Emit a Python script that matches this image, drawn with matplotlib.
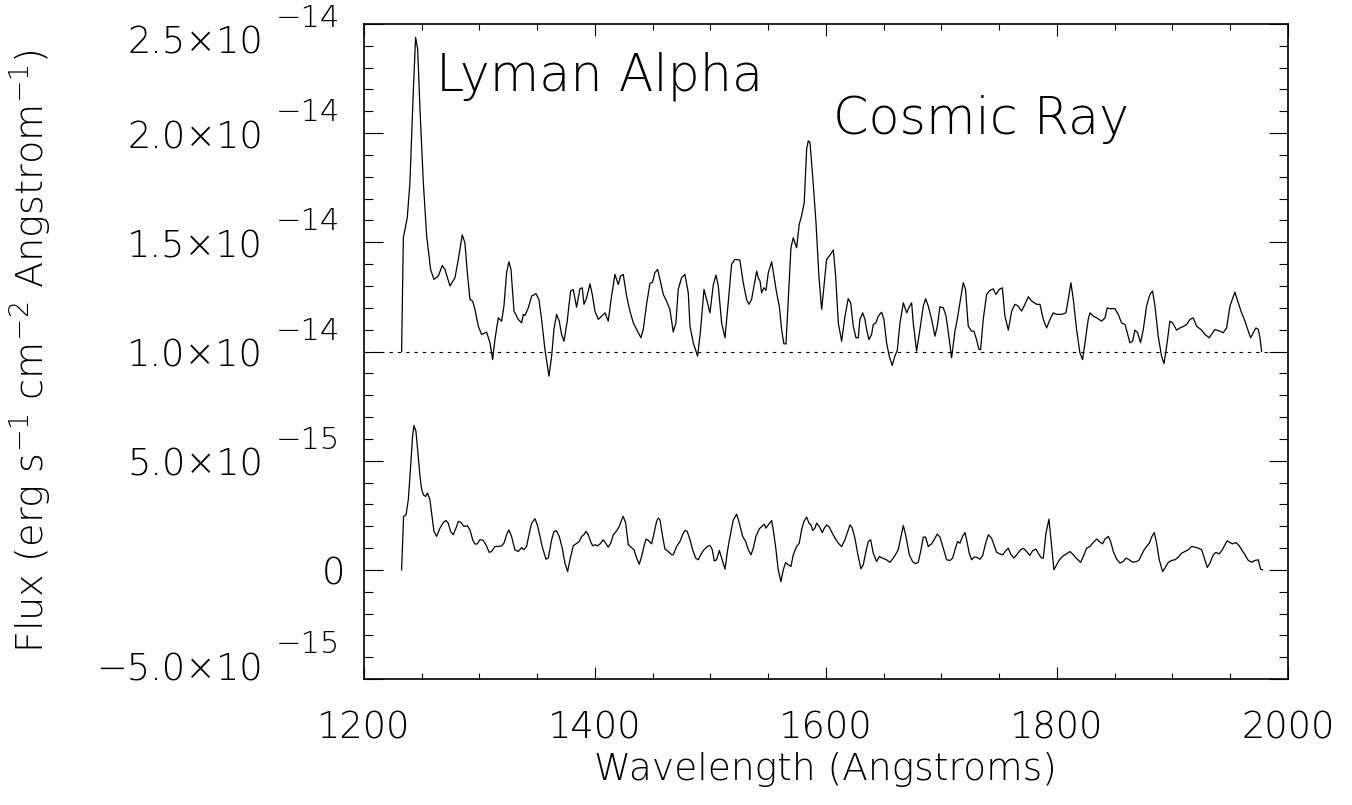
import numpy as np
import matplotlib
matplotlib.use("Agg")
import matplotlib.pyplot as plt
from matplotlib.ticker import MultipleLocator

# spectrum with cosmic ray (flux in units of 1e-15 erg/s/cm^2/A)
raw_wave = [
    1232.6, 1234.1, 1237.5, 1239.8, 1242.7, 1244.7, 1246.5, 1248.5, 1251.4, 1254.3,
    1257.7, 1260.6, 1264.4, 1267.8, 1270.1, 1274.5, 1278.8, 1281.7, 1285.1, 1287.4,
    1289.5, 1291.8, 1294.1, 1296.1, 1299.0, 1301.9, 1306.2, 1309.1, 1311.4, 1313.4,
    1316.3, 1319.2, 1321.2, 1323.5, 1325.5, 1327.3, 1329.9, 1333.6, 1336.5, 1337.9,
    1339.4, 1342.3, 1345.2, 1348.9, 1351.5, 1353.8, 1356.7, 1360.2, 1362.5, 1364.5,
    1366.8, 1369.1, 1371.1, 1373.2, 1376.0, 1378.9, 1381.2, 1384.1, 1387.0, 1389.0,
    1390.5, 1392.8, 1395.7, 1397.7, 1400.0, 1402.9, 1405.8, 1408.7, 1411.5, 1414.4,
    1417.3, 1420.2, 1422.2, 1424.5, 1427.4, 1430.3, 1433.2, 1436.1, 1439.8, 1441.8,
    1444.7, 1447.6, 1449.9, 1451.9, 1454.3, 1456.3, 1459.2, 1462.0, 1464.9, 1467.8,
    1470.1, 1472.1, 1475.0, 1477.9, 1480.8, 1482.3, 1485.1, 1488.9, 1491.5, 1494.4,
    1496.7, 1499.6, 1502.5, 1504.8, 1506.8, 1509.7, 1512.6, 1515.4, 1518.3, 1521.2,
    1525.5, 1528.4, 1531.3, 1533.3, 1535.6, 1537.7, 1540.0, 1541.4, 1542.9, 1544.3,
    1546.3, 1548.1, 1550.1, 1553.0, 1555.0, 1557.3, 1559.6, 1561.6, 1563.6, 1565.4,
    1567.4, 1569.7, 1571.7, 1574.6, 1576.9, 1578.9, 1581.2, 1583.3, 1584.7, 1586.2,
    1588.5, 1591.4, 1593.9, 1596.3, 1598.3, 1600.6, 1604.0, 1606.4, 1608.4, 1610.7,
    1613.6, 1616.5, 1619.3, 1621.4, 1623.7, 1626.0, 1628.0, 1629.4, 1631.8, 1633.8,
    1635.2, 1637.2, 1639.5, 1641.0, 1643.3, 1645.3, 1648.2, 1650.2, 1652.5, 1654.8,
    1657.4, 1659.7, 1661.8, 1664.1, 1667.0, 1669.9, 1672.2, 1674.2, 1675.6, 1678.5,
    1681.4, 1684.3, 1686.3, 1688.6, 1691.5, 1694.4, 1696.4, 1698.7, 1701.6, 1703.9,
    1706.8, 1708.8, 1711.7, 1713.7, 1716.0, 1718.9, 1720.9, 1723.2, 1726.1, 1728.1,
    1730.4, 1732.5, 1733.9, 1736.2, 1739.1, 1742.0, 1744.9, 1747.2, 1750.1, 1752.7,
    1755.0, 1757.9, 1760.8, 1763.6, 1766.5, 1769.4, 1772.3, 1775.2, 1778.1, 1782.4,
    1785.3, 1788.2, 1791.1, 1794.0, 1796.8, 1799.7, 1804.0, 1807.8, 1809.8, 1812.1,
    1814.2, 1817.0, 1819.9, 1822.2, 1824.3, 1827.1, 1828.6, 1831.5, 1834.4, 1838.7,
    1841.6, 1843.6, 1845.9, 1850.2, 1853.1, 1856.0, 1858.9, 1860.9, 1863.2, 1865.5,
    1867.5, 1869.9, 1872.4, 1874.8, 1877.6, 1880.5, 1882.8, 1884.9, 1887.7, 1890.6,
    1892.7, 1895.0, 1897.8, 1900.2, 1903.6, 1906.5, 1910.0, 1912.3, 1915.2, 1918.0,
    1920.9, 1925.3, 1928.1, 1931.9, 1933.9, 1936.8, 1941.1, 1944.0, 1946.9, 1949.8,
    1954.1, 1957.0, 1959.9, 1962.8, 1965.7, 1967.7, 1970.0, 1972.3, 1974.3, 1975.8,
    1977.2,
]
raw_flux = [
    10.00, 15.21, 16.13, 17.74, 21.87, 24.39, 23.85, 21.10, 17.74, 15.29,
    13.76, 13.30, 13.46, 13.94, 13.76, 13.00, 13.38, 14.22, 15.34, 14.98,
    13.61, 12.38, 12.31, 11.93, 11.16, 10.78, 10.89, 10.40, 9.63, 10.55,
    11.54, 11.39, 12.08, 13.61, 14.11, 13.76, 11.85, 11.47, 11.31, 11.70,
    11.65, 12.00, 12.54, 12.65, 12.38, 11.47, 10.09, 8.87, 9.79, 11.01,
    11.70, 11.39, 10.78, 10.47, 11.39, 12.77, 12.84, 12.03, 12.87, 12.92,
    12.16, 12.46, 13.10, 12.61, 11.85, 11.47, 11.62, 11.77, 11.39, 12.54,
    13.53, 13.07, 13.46, 13.53, 12.54, 11.85, 11.31, 11.01, 10.63, 11.01,
    12.16, 13.12, 13.18, 13.61, 13.76, 13.30, 12.61, 12.31, 11.93, 10.89,
    11.31, 12.84, 13.38, 13.53, 12.69, 11.16, 10.40, 9.79, 11.01, 12.84,
    12.38, 11.77, 13.07, 13.50, 13.00, 11.31, 10.63, 12.23, 13.99, 14.22,
    14.19, 13.15, 12.38, 12.16, 12.38, 13.00, 13.68, 13.38, 13.23, 12.69,
    12.92, 12.80, 13.61, 14.11, 13.46, 12.69, 12.08, 11.01, 10.35, 10.35,
    12.38, 14.75, 15.21, 14.75, 15.83, 16.21, 16.82, 19.27, 19.65, 19.57,
    18.04, 15.90, 13.46, 11.93, 13.00, 14.22, 14.45, 14.65, 13.46, 11.31,
    10.47, 11.62, 12.42, 12.23, 11.16, 10.63, 10.63, 11.47, 11.77, 11.47,
    11.01, 10.55, 10.78, 11.24, 11.31, 11.62, 11.80, 11.47, 10.40, 9.79,
    9.36, 9.79, 10.06, 11.31, 12.23, 11.77, 12.05, 12.23, 11.31, 10.02,
    11.01, 12.08, 12.42, 12.08, 11.47, 10.70, 11.16, 12.05, 12.00, 11.65,
    10.55, 9.71, 10.93, 11.47, 12.23, 13.15, 12.84, 11.16, 10.93, 10.93,
    10.55, 10.09, 10.09, 11.47, 12.61, 12.80, 12.87, 12.61, 12.84, 12.92,
    11.62, 10.98, 11.85, 12.16, 12.08, 11.85, 12.16, 12.51, 12.31, 12.16,
    12.16, 11.47, 11.08, 11.47, 11.77, 11.70, 11.70, 11.77, 12.38, 13.15,
    12.38, 11.01, 9.94, 9.63, 10.40, 11.47, 11.77, 11.62, 11.54, 11.39,
    11.54, 12.00, 11.96, 11.97, 11.70, 11.31, 11.24, 10.86, 10.40, 10.47,
    10.98, 10.86, 10.40, 11.01, 12.08, 12.61, 12.77, 12.08, 10.70, 9.79,
    9.45, 10.24, 11.39, 11.31, 10.98, 11.08, 11.16, 11.24, 11.47, 11.54,
    11.16, 10.98, 10.78, 10.63, 10.78, 11.01, 10.93, 10.86, 11.08, 12.08,
    12.72, 12.23, 11.77, 11.39, 10.93, 10.63, 10.86, 11.08, 11.01, 10.63,
    10.00,
]

# cleaned spectrum (same units)
clean_wave = [
    1232.6, 1234.3, 1236.4, 1238.4, 1240.4, 1242.1, 1243.3, 1245.0, 1247.0, 1248.5,
    1249.9, 1251.4, 1253.4, 1255.1, 1257.1, 1258.6, 1260.6, 1262.9, 1265.8, 1268.7,
    1271.0, 1273.0, 1275.0, 1277.3, 1279.7, 1281.7, 1284.0, 1286.6, 1289.5, 1291.8,
    1294.1, 1296.1, 1298.1, 1300.4, 1303.3, 1305.6, 1308.5, 1310.5, 1313.4, 1316.3,
    1319.2, 1321.2, 1323.5, 1325.5, 1327.8, 1330.7, 1333.6, 1336.5, 1338.5, 1340.8,
    1342.9, 1345.2, 1348.1, 1350.1, 1352.4, 1354.7, 1357.6, 1359.6, 1362.5, 1364.5,
    1366.8, 1369.1, 1371.7, 1374.0, 1376.3, 1378.4, 1381.2, 1383.6, 1386.4, 1388.5,
    1390.5, 1392.2, 1394.2, 1396.2, 1398.0, 1400.0, 1402.0, 1404.3, 1407.2, 1409.2,
    1411.5, 1413.6, 1415.9, 1418.8, 1421.1, 1423.1, 1424.5, 1426.6, 1428.9, 1431.7,
    1433.8, 1436.1, 1438.4, 1440.4, 1442.4, 1444.2, 1446.2, 1449.1, 1451.1, 1453.4,
    1454.8, 1456.3, 1458.6, 1460.6, 1463.5, 1466.4, 1467.8, 1470.7, 1473.6, 1475.9,
    1477.9, 1479.9, 1482.3, 1484.6, 1487.2, 1489.5, 1491.5, 1494.4, 1497.3, 1499.6,
    1501.6, 1503.3, 1505.3, 1507.7, 1509.7, 1512.6, 1514.9, 1517.5, 1519.8, 1522.7,
    1525.0, 1527.9, 1530.5, 1532.8, 1535.1, 1537.1, 1539.4, 1542.3, 1545.2, 1546.6,
    1548.1, 1550.1, 1553.0, 1554.4, 1556.4, 1558.7, 1561.0, 1563.1, 1565.1, 1567.4,
    1569.7, 1571.7, 1574.6, 1576.9, 1578.9, 1581.0, 1583.3, 1585.3, 1587.0, 1588.5,
    1590.5, 1591.9, 1594.2, 1596.8, 1598.6, 1600.6, 1602.9, 1605.5, 1607.8, 1610.7,
    1613.6, 1616.5, 1619.3, 1620.8, 1622.8, 1625.1, 1627.4, 1630.3, 1632.3, 1634.6,
    1636.7, 1638.7, 1641.0, 1643.9, 1646.2, 1648.8, 1652.5, 1655.4, 1658.3, 1660.6,
    1662.6, 1664.9, 1667.0, 1669.3, 1672.2, 1675.0, 1677.6, 1679.9, 1682.0, 1684.3,
    1686.3, 1688.6, 1691.5, 1694.4, 1696.4, 1698.7, 1701.6, 1704.5, 1707.4, 1709.7,
    1711.7, 1714.0, 1716.0, 1718.3, 1720.4, 1721.8, 1724.1, 1726.1, 1728.1, 1730.4,
    1733.3, 1735.6, 1738.3, 1740.6, 1743.4, 1745.8, 1747.8, 1750.7, 1753.0, 1755.9,
    1757.9, 1759.9, 1762.8, 1765.7, 1768.6, 1770.9, 1773.7, 1776.6, 1778.9, 1781.8,
    1783.8, 1786.7, 1788.2, 1790.5, 1793.1, 1795.4, 1797.4, 1799.7, 1802.6, 1805.5,
    1809.0, 1811.3, 1814.2, 1817.6, 1820.5, 1822.8, 1825.7, 1828.6, 1830.9, 1834.4,
    1836.7, 1839.5, 1841.6, 1844.5, 1846.5, 1848.8, 1851.7, 1854.6, 1857.4, 1859.7,
    1862.6, 1865.5, 1869.0, 1871.3, 1873.3, 1875.6, 1877.6, 1880.0, 1882.0, 1884.3,
    1886.3, 1888.6, 1891.5, 1893.5, 1896.4, 1899.3, 1902.2, 1905.1, 1907.9, 1910.8,
    1913.7, 1916.6, 1919.5, 1922.4, 1925.3, 1928.1, 1930.2, 1932.5, 1935.4, 1937.7,
    1940.6, 1943.2, 1945.5, 1947.5, 1949.8, 1952.1, 1955.0, 1957.9, 1959.9, 1962.8,
    1965.7, 1968.6, 1971.4, 1974.3, 1976.4, 1978.1,
]
clean_flux = [
    0.00, 2.45, 2.52, 3.21, 4.74, 6.12, 6.61, 6.35, 5.20, 4.28,
    3.70, 3.44, 3.36, 3.52, 3.21, 2.60, 1.76, 1.53, 1.91, 2.17,
    2.26, 2.14, 1.76, 1.61, 1.91, 2.22, 2.17, 1.99, 2.02, 1.83,
    1.38, 1.18, 1.19, 1.38, 1.35, 1.15, 0.80, 0.84, 1.07, 1.07,
    1.10, 1.22, 1.61, 1.83, 1.53, 0.92, 0.84, 1.02, 0.92, 1.07,
    1.61, 2.14, 2.34, 2.06, 1.53, 0.99, 0.49, 0.54, 1.38, 1.76,
    1.79, 1.53, 0.99, 0.31, -0.08, 0.46, 1.10, 1.19, 1.30, 1.53,
    1.61, 1.76, 1.61, 1.30, 1.10, 1.15, 1.10, 1.18, 1.38, 1.22,
    1.04, 1.22, 1.61, 1.79, 1.99, 2.29, 2.45, 2.14, 1.15, 1.02,
    0.92, 0.54, 0.26, 0.61, 1.07, 1.41, 1.35, 1.19, 1.68, 2.22,
    2.37, 2.29, 1.53, 0.95, 0.84, 0.69, 0.69, 1.07, 1.30, 1.61,
    1.80, 1.76, 1.38, 0.92, 0.54, 0.46, 0.69, 0.92, 1.07, 1.12,
    0.92, 0.41, 0.46, 0.89, 0.54, 0.03, 0.92, 1.68, 2.29, 2.55,
    2.14, 1.53, 1.30, 0.92, 0.69, 0.99, 1.53, 1.88, 2.02, 2.09,
    1.91, 2.06, 2.26, 1.83, 1.07, 0.00, -0.54, 0.00, 0.34, 0.23,
    0.15, 0.69, 1.07, 1.22, 1.83, 2.22, 2.42, 2.14, 2.06, 1.80,
    1.91, 2.14, 1.99, 1.71, 1.91, 2.06, 1.96, 1.68, 1.45, 1.22,
    1.07, 1.38, 1.83, 2.06, 1.91, 1.45, 0.76, 0.05, 0.23, 0.84,
    1.30, 1.38, 0.76, 0.38, 0.61, 0.54, 0.46, 0.34, 0.54, 0.73,
    0.92, 1.50, 2.03, 1.53, 0.69, 0.38, 0.28, 0.34, 0.84, 1.50,
    1.50, 1.07, 1.19, 1.45, 1.64, 1.50, 0.99, 0.46, 0.43, 0.54,
    0.92, 1.30, 1.22, 1.53, 1.71, 1.38, 0.76, 0.46, 0.58, 0.58,
    0.49, 0.64, 1.22, 1.61, 1.45, 1.10, 0.80, 0.73, 0.69, 0.89,
    0.99, 0.73, 0.54, 0.73, 0.92, 0.99, 0.84, 0.66, 0.87, 0.95,
    0.76, 0.54, 0.54, 1.68, 2.32, 1.07, 0.00, 0.23, 0.49, 0.64,
    0.76, 0.84, 0.69, 0.49, 0.34, 0.61, 0.99, 1.07, 1.22, 1.41,
    1.30, 1.19, 1.41, 1.53, 1.30, 0.84, 0.49, 0.31, 0.38, 0.54,
    0.46, 0.35, 0.38, 0.46, 0.69, 0.92, 1.07, 1.22, 1.50, 1.71,
    1.22, 0.46, -0.08, 0.08, 0.34, 0.43, 0.46, 0.58, 0.76, 0.84,
    0.92, 1.07, 1.04, 0.99, 0.92, 0.46, 0.11, 0.31, 0.69, 0.80,
    0.73, 0.92, 1.15, 1.33, 1.25, 1.19, 1.25, 1.10, 0.92, 0.69,
    0.43, 0.35, 0.43, 0.46, 0.03, 0.00,
]
FLUX_UNIT = 1e-15
CONTINUUM = 1.0e-14

y_tick_values = [-5, 0, 5, 10, 15, 20, 25]
y_tick_mant = ["\u22125.0\u00d710", "0", "5.0\u00d710", "1.0\u00d710",
               "1.5\u00d710", "2.0\u00d710", "2.5\u00d710"]
y_tick_exp = ["\u221215", "", "\u221215", "\u221214", "\u221214", "\u221214", "\u221214"]
x_tick_values = [1200, 1400, 1600, 1800, 2000]

notes = ["Lyman Alpha", "Cosmic Ray"]
note_wave = [1262.3, 1606.3]
note_flux = [21.94, 19.95]

plt.rcParams['font.family'] = ['DejaVu Sans']
plt.rcParams['font.weight'] = 'ultralight'
plt.rcParams['axes.labelweight'] = 'ultralight'
plt.rcParams['mathtext.fontset'] = 'custom'
plt.rcParams['mathtext.rm'] = 'DejaVu Sans:ultralight'
plt.rcParams['mathtext.it'] = 'DejaVu Sans:ultralight'

fig = plt.figure(figsize=(13.52, 8.05), dpi=100)
ax = fig.add_axes([0.2692, 0.1565, 0.6834, 0.8137])

ax.plot(raw_wave, np.array(raw_flux) * FLUX_UNIT, color='black', lw=0.9)
ax.plot(clean_wave, np.array(clean_flux) * FLUX_UNIT, color='black', lw=0.9)
ax.axhline(CONTINUUM, color='black', lw=0.8, ls=(0, (3, 4.5)))

ax.set_xlim(1200, 2000)
ax.set_ylim(-5e-15, 2.5e-14)

ax.set_xticks(x_tick_values)
ax.set_xticklabels([str(v) for v in x_tick_values])
ax.xaxis.set_minor_locator(MultipleLocator(50))
ax.set_yticks(np.array(y_tick_values) * FLUX_UNIT)
ax.yaxis.set_minor_locator(MultipleLocator(1e-15))

ax.tick_params(which='both', direction='in', top=True, right=True, width=0.8, color='black')
ax.tick_params(axis='x', which='major', length=8.6, pad=22, labelsize=26.5)
ax.tick_params(axis='x', which='minor', length=4.3)
ax.tick_params(axis='y', which='major', length=13.7, labelleft=False)
ax.tick_params(axis='y', which='minor', length=6.8)
for s in ax.spines.values():
    s.set_linewidth(1.2)

# IDL style y labels: mantissa with raised exponent,
# the end labels are pulled inside the axis range like IDL does
ytr = ax.get_yaxis_transform()
for v, m, e in zip(y_tick_values, y_tick_mant, y_tick_exp):
    base = -15
    if v == max(y_tick_values):
        base = -30
    elif v == min(y_tick_values):
        base = -1
    if e:
        ax.annotate(m, xy=(0, v * FLUX_UNIT), xycoords=ytr, xytext=(-101, base),
                    textcoords='offset pixels', ha='right', va='baseline', fontsize=26.5)
        ax.annotate(e, xy=(0, v * FLUX_UNIT), xycoords=ytr, xytext=(-56, base + 27),
                    textcoords='offset pixels', ha='center', va='baseline', fontsize=22)
    else:
        ax.annotate(m, xy=(0, v * FLUX_UNIT), xycoords=ytr, xytext=(-19, base),
                    textcoords='offset pixels', ha='right', va='baseline', fontsize=26.5)

for txt, w, f in zip(notes, note_wave, note_flux):
    ax.text(w, f * FLUX_UNIT, txt, fontsize=36.5, va='baseline', ha='left')

ax.set_xlabel("Wavelength (Angstroms)", fontsize=27)
ax.xaxis.set_label_coords(0.5, -0.1115)
ax.set_ylabel(r"Flux (erg s$^{-1}$ cm$^{-2}$ Angstrom$^{-1}$)", fontsize=27.5)
ax.yaxis.set_label_coords(-0.336, 0.5)

fig.savefig("out.png", dpi=100)
